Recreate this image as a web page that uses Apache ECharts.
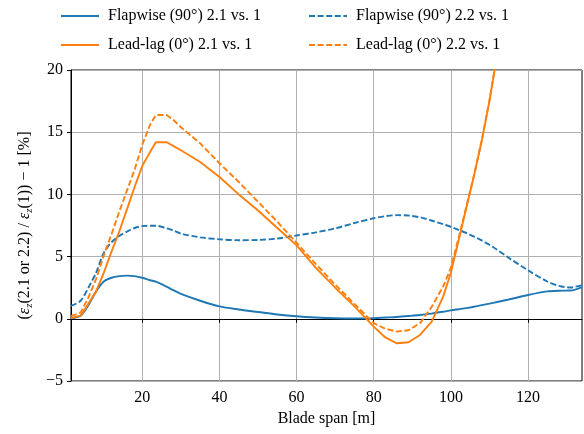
<!DOCTYPE html>
<html>
<head>
<meta charset="utf-8">
<script src="https://cdn.jsdelivr.net/npm/echarts@6/dist/echarts.min.js"></script>
<style>
html,body{margin:0;padding:0;background:#fff;}
#chart{width:584px;height:434px;}
</style>
</head>
<body>
<div id="chart"></div>
<script>
// Blade span positions [m]
var span = [1.5, 4, 6, 8, 10, 12, 14, 16, 18, 20, 22, 23.5, 26.3, 28, 30, 35, 40, 45, 50, 55, 60, 65, 70, 75, 80, 83, 86, 89, 92, 95, 98, 100, 102, 104, 106, 108, 110, 112, 115, 120, 125, 128, 131, 134];

var flap21 = [0.05, 0.25, 1.1, 2.2, 3.0, 3.3, 3.43, 3.47, 3.43, 3.3, 3.1, 2.98, 2.58, 2.3, 2.0, 1.45, 1.0, 0.75, 0.55, 0.35, 0.2, 0.1, 0.04, 0.02, 0.05, 0.1, 0.15, 0.22, 0.3, 0.42, 0.57, 0.68, 0.77, 0.86, 0.97, 1.1, 1.22, 1.35, 1.55, 1.91, 2.2, 2.26, 2.27, 2.55];
var flap22 = [1.03, 1.45, 2.5, 3.7, 5.3, 6.15, 6.65, 7.0, 7.3, 7.45, 7.48, 7.48, 7.27, 7.1, 6.85, 6.55, 6.39, 6.32, 6.34, 6.45, 6.7, 6.95, 7.27, 7.7, 8.08, 8.25, 8.33, 8.3, 8.16, 7.9, 7.6, 7.4, 7.15, 6.9, 6.6, 6.3, 5.95, 5.55, 4.9, 3.9, 3.0, 2.65, 2.52, 2.72];
var lead21 = [0.05, 0.25, 1.2, 2.2, 3.7, 5.4, 7.0, 8.8, 10.6, 12.3, 13.4, 14.19, 14.19, 13.9, 13.55, 12.6, 11.4, 10.0, 8.7, 7.3, 5.9, 4.1, 2.5, 1.0, -0.63, -1.5, -1.97, -1.88, -1.3, -0.25, 1.78, 3.7, 6.3, 8.9, 11.5, 14.3, 17.5, 21.2];
var lead22 = [0.22, 0.5, 1.7, 3.2, 5.1, 6.8, 8.6, 10.3, 12.0, 14.0, 15.6, 16.38, 16.38, 16.0, 15.4, 14.1, 12.5, 11.0, 9.4, 7.8, 6.1, 4.4, 2.75, 1.2, -0.35, -0.8, -1.03, -0.92, -0.35, 0.95, 2.6, 4.1, 6.5, 9.0, 11.55, 14.35, 17.55, 21.25];

var xTicks = [20, 40, 60, 80, 100, 120];
var names = ['Flapwise (90\u00b0) 2.1 vs. 1', 'Flapwise (90\u00b0) 2.2 vs. 1', 'Lead-lag (0\u00b0) 2.1 vs. 1', 'Lead-lag (0\u00b0) 2.2 vs. 1'];

var BLUE = '#1f77b4', ORANGE = '#ff7f0e';
var FONT = 'Liberation Serif';

function pairs(vals) {
  var out = [];
  for (var i = 0; i < vals.length; i++) out.push([span[i], vals[i]]);
  return out;
}
function mkSeries(name, vals, color, dashed, smooth) {
  return {
    name: name, type: 'line', data: pairs(vals), symbol: 'none', smooth: smooth,
    clip: true,
    lineStyle: { color: color, width: 1.9, type: dashed ? [6, 2.6] : 'solid' },
    itemStyle: { color: color }
  };
}

var legendCommon = {
  orient: 'vertical', top: 3, itemWidth: 38, itemHeight: 14, itemGap: 13,
  itemStyle: { opacity: 0 },
  textStyle: { fontFamily: FONT, fontSize: 16, color: '#000', lineHeight: 16, padding: [0, 0, 0, 4] }
};

var chart = echarts.init(document.getElementById('chart'), null, { renderer: 'canvas' });
chart.setOption({
  animation: false,
  backgroundColor: '#fff',
  textStyle: { fontFamily: FONT },
  grid: { left: 71, right: 2, top: 70, bottom: 53, show: true, borderColor: '#000', borderWidth: 1, backgroundColor: 'transparent' },
  legend: [
    Object.assign({ left: 55, data: [names[0], names[2]] }, legendCommon),
    Object.assign({ left: 303, data: [names[1], names[3]] }, legendCommon)
  ],
  xAxis: {
    type: 'value', min: 1.5, max: 134,
    name: 'Blade span [m]', nameLocation: 'middle', nameGap: 27,
    nameTextStyle: { fontFamily: FONT, fontSize: 16, color: '#000' },
    axisLine: { show: true, lineStyle: { color: '#000', width: 1 } },
    axisTick: { show: true, length: 4, customValues: xTicks, lineStyle: { color: '#000' } },
    axisLabel: { customValues: xTicks, margin: 9, fontFamily: FONT, fontSize: 16, color: '#000' },
    splitLine: { show: true, lineStyle: { color: '#b0b0b0', width: 1 } }
  },
  yAxis: {
    type: 'value', min: -5, max: 20, interval: 5,
    name: '({i|\u03b5}{s|z}(2.1 or 2.2) / {i|\u03b5}{s|z}(1)) \u2212 1 [%]',
    nameLocation: 'middle', nameGap: 34,
    nameTextStyle: {
      fontFamily: FONT, fontSize: 16, color: '#000', lineHeight: 20,
      rich: {
        i: { fontFamily: FONT, fontSize: 16, fontStyle: 'italic', color: '#000', lineHeight: 20 },
        s: { fontFamily: FONT, fontSize: 11, fontStyle: 'italic', color: '#000', lineHeight: 20, verticalAlign: 'bottom', padding: [6, 0, 0, 0] }
      }
    },
    axisLine: { show: true, lineStyle: { color: '#000', width: 1 } },
    axisTick: { show: true, length: 4, lineStyle: { color: '#000' } },
    axisLabel: {
      margin: 8, fontFamily: FONT, fontSize: 16, color: '#000',
      formatter: function (v) { return String(v).replace('-', '\u2212'); }
    },
    splitLine: { show: true, lineStyle: { color: '#b0b0b0', width: 1 } }
  },
  series: [
    mkSeries(names[0], flap21, BLUE, false, 0.3),
    mkSeries(names[1], flap22, BLUE, true, 0.3),
    mkSeries(names[2], lead21, ORANGE, false, false),
    mkSeries(names[3], lead22, ORANGE, true, false)
  ]
});
</script>
</body>
</html>
